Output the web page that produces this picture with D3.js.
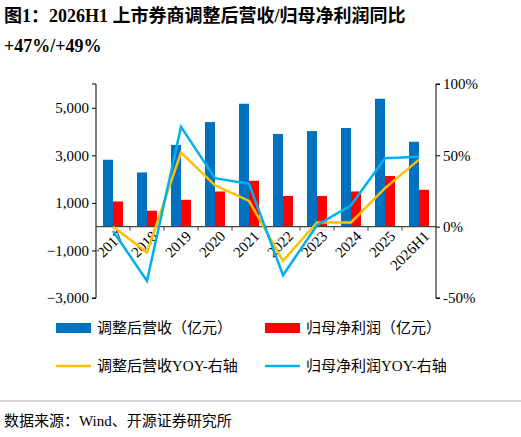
<!DOCTYPE html><html><head><meta charset="utf-8">
<script src="https://cdn.jsdelivr.net/npm/d3@7"></script>
<style>body{margin:0;background:#fff}text{font-family:"Liberation Serif","Noto Sans CJK SC",serif}</style></head><body>
<svg id="c" width="521" height="437"></svg>
<script>
const categories=["2017","2018","2019","2020","2021","2022","2023","2024","2025","2026H1"];
const revenue=[2815,2280,3440,4400,5170,3900,4020,4150,5380,3570];
const profit=[1060,670,1130,1480,1930,1290,1290,1480,2130,1550];
const revYoy=[0,-18,52,29,18,-24,3,3,27,47];
const profitYoy=[-3,-38,70,34,30,-34,1,15,48,49];
const leftTicks=[5000,3000,1000,-1000,-3000];
const rightTicks=[100,50,0,-50];
const svg=d3.select("#c");
const L=96,R=436,T=84,B=298;
const x=d3.scaleBand().domain(categories).range([L,R]);
const y=d3.scaleLinear().domain([-3000,6000]).range([B,T]);
const y2=d3.scaleLinear().domain([-50,100]).range([B,T]);
const fmt=d3.format(",");
svg.append("text").attr("x",4).attr("y",22).attr("font-size",18).attr("font-weight","bold").text("图1：2026H1  上市券商调整后营收/归母净利润同比");
svg.append("text").attr("x",4).attr("y",52).attr("font-size",18).attr("font-weight","bold").text("+47%/+49%");
const bw=10;
svg.selectAll(".b").data(revenue).join("rect").attr("x",(d,i)=>x(categories[i])+x.bandwidth()/2-bw).attr("width",bw)
 .attr("y",d=>y(d)).attr("height",d=>y(0)-y(d)).attr("fill","#0070C0");
svg.selectAll(".r").data(profit).join("rect").attr("x",(d,i)=>x(categories[i])+x.bandwidth()/2).attr("width",bw)
 .attr("y",d=>y(d)).attr("height",d=>y(0)-y(d)).attr("fill","#FF0000");
const la=svg.append("g").attr("transform",`translate(${L},0)`).call(d3.axisLeft(y).tickValues(leftTicks).tickFormat(fmt).tickSize(4));
const ra=svg.append("g").attr("transform",`translate(${R},0)`).call(d3.axisRight(y2).tickValues(rightTicks).tickFormat(d=>d+"%").tickSize(4));
[la,ra].forEach(a=>{a.select(".domain").attr("stroke","#000");a.selectAll("text").attr("font-size",15).attr("fill","#000").style("font-family","Liberation Serif");});
la.select(".domain").attr("d",`M-4,${T}H0V${B}H-4`);
ra.select(".domain").attr("d",`M4,${T}H0V${B}H4`);
svg.append("line").attr("x1",L).attr("x2",R).attr("y1",y(0)).attr("y2",y(0)).attr("stroke","#444").attr("stroke-width",1.2);
svg.selectAll(".tk").data(categories.slice(1)).join("line").attr("x1",d=>x(d)).attr("x2",d=>x(d)).attr("y1",y(0)).attr("y2",y(0)+4).attr("stroke","#444");
svg.selectAll(".xl").data(categories).join("text").attr("font-size",15).attr("text-anchor","end")
 .attr("transform",d=>`translate(${x(d)+x.bandwidth()/2+4},${y(0)+3}) rotate(-45)`).attr("dy","0.7em").text(d=>d);
const line=d3.line().x((d,i)=>x(categories[i])+x.bandwidth()/2).y(d=>y2(d));
svg.append("path").datum(revYoy).attr("d",line).attr("fill","none").attr("stroke","#FFC000").attr("stroke-width",2.5);
svg.append("path").datum(profitYoy).attr("d",line).attr("fill","none").attr("stroke","#00B0F0").attr("stroke-width",2.5);
const leg=[["调整后营收（亿元）","#0070C0","rect",56,328],["归母净利润（亿元）","#FF0000","rect",265,328],
["调整后营收YOY-右轴","#FFC000","line",56,366],["归母净利润YOY-右轴","#00B0F0","line",265,366]];
leg.forEach(([t,c,k,lx,ly])=>{
 if(k=="rect")svg.append("rect").attr("x",lx).attr("y",ly-5).attr("width",35).attr("height",10).attr("fill",c);
 else svg.append("line").attr("x1",lx).attr("x2",lx+35).attr("y1",ly).attr("y2",ly).attr("stroke",c).attr("stroke-width",2.5);
 svg.append("text").attr("x",lx+41).attr("y",ly+5).attr("font-size",15).text(t);
});
svg.append("line").attr("x1",0).attr("x2",521).attr("y1",401).attr("y2",401).attr("stroke","#999").attr("stroke-width",0.8);
svg.append("text").attr("x",4).attr("y",426).attr("font-size",15).text("数据来源：Wind、开源证券研究所");
</script></body></html>
